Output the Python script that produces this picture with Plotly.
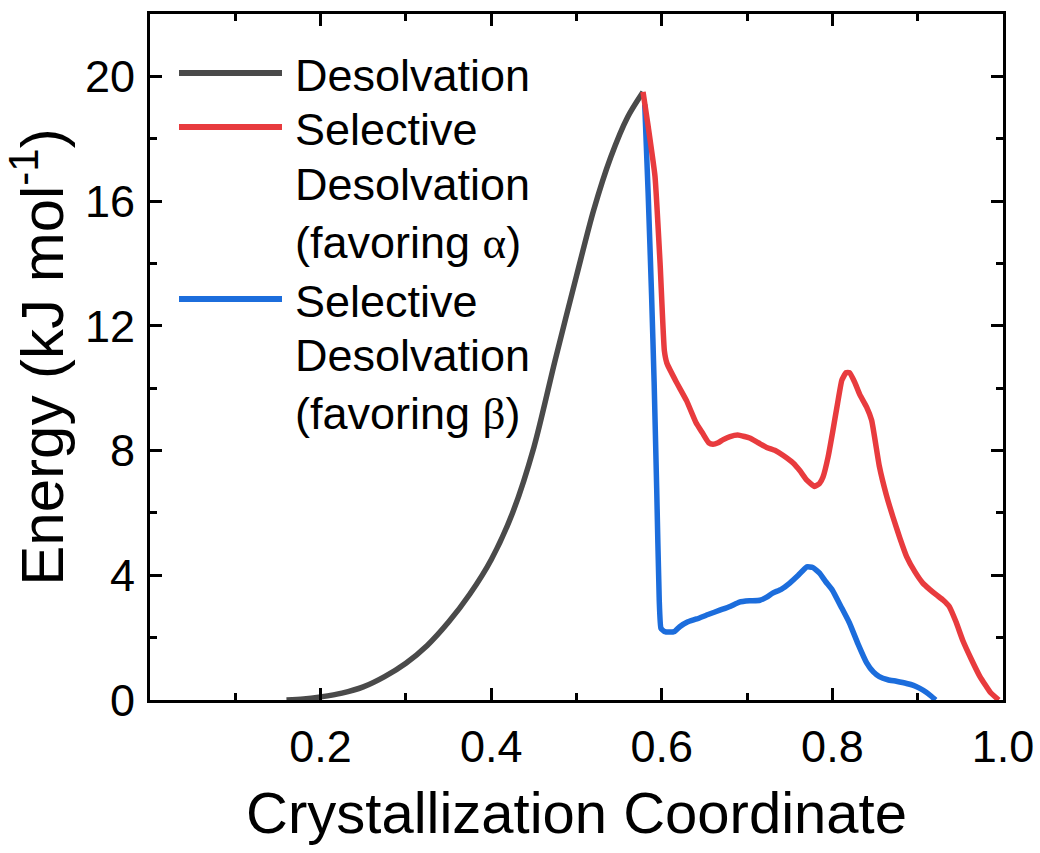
import plotly.graph_objects as go

# ---------------- data ----------------
desolv_x = [0.16, 0.18, 0.2, 0.225, 0.25, 0.275, 0.3, 0.325, 0.35, 0.375, 0.4, 0.425,
            0.45, 0.475, 0.5, 0.52, 0.54, 0.56, 0.578]
desolv_y = [0.0, 0.03, 0.1, 0.22, 0.42, 0.75, 1.18, 1.75, 2.5, 3.4, 4.5, 6.0,
            8.1, 10.9, 13.6, 15.7, 17.4, 18.7, 19.5]

alpha_x = [0.578, 0.584, 0.592, 0.598, 0.603, 0.606, 0.617, 0.629, 0.640, 0.648, 0.655,
           0.660, 0.666, 0.672, 0.680, 0.689, 0.697, 0.703, 0.713, 0.723, 0.733, 0.742,
           0.754, 0.762, 0.770, 0.779, 0.785, 0.789, 0.795, 0.800, 0.806, 0.811, 0.816,
           0.820, 0.826, 0.832, 0.840, 0.846, 0.855, 0.863, 0.871, 0.879, 0.887, 0.897,
           0.906, 0.914, 0.922, 0.930, 0.937, 0.945, 0.953, 0.963, 0.973, 0.985, 0.995]
alpha_y = [19.5, 18.4, 16.8, 14.0, 11.2, 10.8, 10.2, 9.6, 8.9, 8.55, 8.25,
           8.2, 8.25, 8.35, 8.45, 8.5, 8.45, 8.4, 8.25, 8.1, 8.0, 7.85,
           7.6, 7.35, 7.05, 6.85, 6.95, 7.15, 7.8, 8.55, 9.5, 10.25, 10.5,
           10.5, 10.2, 9.8, 9.4, 8.97, 7.5, 6.6, 5.87, 5.2, 4.6, 4.1,
           3.75, 3.55, 3.37, 3.2, 3.0, 2.5, 1.9, 1.3, 0.75, 0.25, 0.0]

beta_x = [0.580, 0.584, 0.588, 0.591, 0.594, 0.597, 0.599, 0.603, 0.609, 0.615, 0.621,
          0.630, 0.641, 0.655, 0.668, 0.680, 0.691, 0.703, 0.715, 0.723, 0.730, 0.740,
          0.750, 0.760, 0.770, 0.777, 0.785, 0.792, 0.800, 0.810, 0.820, 0.830, 0.840,
          0.848, 0.855, 0.865, 0.875, 0.887, 0.895, 0.902, 0.910, 0.916, 0.921]
beta_y = [19.1, 16.25, 13.0, 10.2, 6.8, 3.2, 2.3, 2.2, 2.18, 2.2, 2.35,
          2.5, 2.6, 2.75, 2.88, 3.0, 3.14, 3.18, 3.2, 3.3, 3.43, 3.55,
          3.75, 4.0, 4.27, 4.25, 4.07, 3.8, 3.52, 3.0, 2.47, 1.8, 1.2,
          0.9, 0.75, 0.65, 0.6, 0.53, 0.47, 0.38, 0.25, 0.12, 0.0]

x_tickvals = [0.2, 0.4, 0.6, 0.8, 1.0]
x_ticktext = ["0.2", "0.4", "0.6", "0.8", "1.0"]
y_tickvals = [0, 4, 8, 12, 16, 20]

series_names = ["Desolvation",
                "Selective<br>Desolvation<br>(favoring α)",
                "Selective<br>Desolvation<br>(favoring β)"]
colors = ["#4a4a4a", "#e83b3e", "#1c6ddc"]

FONT = "Liberation Sans, Arial, sans-serif"

fig = go.Figure()
fig.add_trace(go.Scatter(x=desolv_x, y=desolv_y, mode="lines", name=series_names[0],
                         line=dict(color=colors[0], width=5.5, shape="spline", smoothing=0.8),
                         showlegend=False))
fig.add_trace(go.Scatter(x=beta_x, y=beta_y, mode="lines", name=series_names[2],
                         line=dict(color=colors[2], width=5.5, shape="spline", smoothing=0.4),
                         showlegend=False))
fig.add_trace(go.Scatter(x=alpha_x, y=alpha_y, mode="lines", name=series_names[1],
                         line=dict(color=colors[1], width=5.5, shape="spline", smoothing=0.4),
                         showlegend=False))

# ---------------- manual legend ----------------
L, R, T, B = 150, 1003, 14, 700
def px(xp):
    return (xp - L) / (R - L)
def py(yp):
    return (B - yp) / (B - T)

legend_rows = [
    (75, "Desolvation", colors[0]),
    (129, "Selective", colors[1]),
    (185, "Desolvation", None),
    (242, "(favoring <span style=\"font-family:'Liberation Serif'\">α</span>)", None),
    (301, "Selective", colors[2]),
    (356, "Desolvation", None),
    (413, "(favoring <span style=\"font-family:'Liberation Serif'\">β</span>)", None),
]
shapes = []
annotations = []
for ypix, txt, col in legend_rows:
    if col is not None:
        shapes.append(dict(type="line", xref="paper", yref="paper",
                           x0=px(179), x1=px(282), y0=py(ypix - 2), y1=py(ypix - 2),
                           line=dict(color=col, width=6)))
    annotations.append(dict(xref="paper", yref="paper", x=px(293), y=py(ypix),
                            xanchor="left", yanchor="middle", showarrow=False,
                            text=txt, font=dict(family=FONT, size=45, color="black")))

fig.update_layout(
    width=1040, height=853,
    margin=dict(l=L, r=1040 - R, t=T, b=853 - B),
    paper_bgcolor="white", plot_bgcolor="white",
    font=dict(family=FONT, color="black"),
    shapes=shapes, annotations=annotations,
    showlegend=False,
)
fig.update_xaxes(
    range=[0, 1.0], tickmode="array", tickvals=x_tickvals, ticktext=x_ticktext,
    ticks="inside", ticklen=12, tickwidth=2.5, tickcolor="black",
    minor=dict(dtick=0.1, tick0=0, ticks="inside", ticklen=7, tickwidth=2.5, tickcolor="black"),
    showline=True, linewidth=3, linecolor="black", mirror="allticks",
    showgrid=False, zeroline=False,
    tickfont=dict(family=FONT, size=45), ticklabelstandoff=5,
    title=dict(text="Crystallization Coordinate", font=dict(family=FONT, size=58), standoff=22),
    automargin=False,
)
fig.update_yaxes(
    range=[0, 22], tickmode="array", tickvals=y_tickvals,
    ticks="inside", ticklen=12, tickwidth=2.5, tickcolor="black",
    minor=dict(dtick=2, tick0=0, ticks="inside", ticklen=7, tickwidth=2.5, tickcolor="black"),
    showline=True, linewidth=3, linecolor="black", mirror="allticks",
    showgrid=False, zeroline=False,
    tickfont=dict(family=FONT, size=45), ticklabelstandoff=3,
    title=dict(text="Energy (kJ mol<sup>-1</sup>)", font=dict(family=FONT, size=60), standoff=18),
    automargin=False,
)

fig.write_html("out.html")
